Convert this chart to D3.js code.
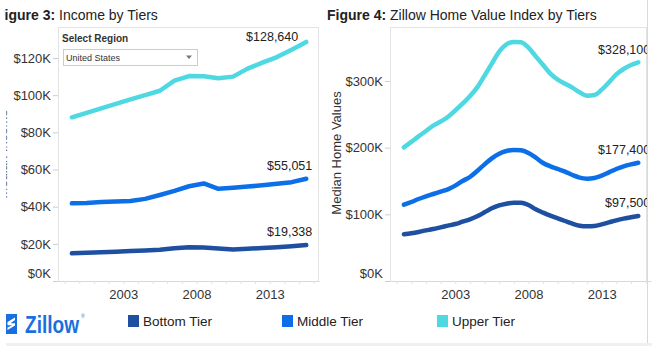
<!DOCTYPE html>
<html>
<head>
<meta charset="utf-8">
<script src="https://cdn.jsdelivr.net/npm/d3@7"></script>
<style>
  body { margin: 0; background: #fff; }
  svg { display: block; font-family: "Liberation Sans", Arial, Helvetica, sans-serif; }
</style>
</head>
<body>
<svg id="chart" width="652" height="346"></svg>
<script>
// ---- Data ----
const tiers = ["Bottom Tier", "Middle Tier", "Upper Tier"];
const tierColors = ["#1e4fa0", "#0d6fe8", "#4ed8e2"];

// Annual income by tier (US), plotted at mid-year
const incomeYears = [1999, 2000, 2001, 2002, 2003, 2004, 2005, 2006, 2007, 2008, 2009, 2010, 2011, 2012, 2013, 2014, 2015];
const incomeBottom = [14900, 15200, 15500, 15800, 16100, 16400, 16800, 17600, 18200, 18000, 17500, 16900, 17300, 17800, 18200, 18700, 19338];
const incomeMiddle = [41800, 42000, 42500, 42800, 43100, 44200, 46300, 48500, 51000, 52500, 49600, 50200, 50800, 51500, 52300, 53200, 55051];
const incomeUpper  = [88100, 90500, 92900, 95300, 97700, 100000, 102400, 107800, 110300, 110200, 109100, 110000, 114300, 117500, 120500, 124500, 128640];

// Zillow Home Value Index by tier, semi-annual (Jul 1999 – Jul 2015)
const zhviPeriods = d3.timeMonth.every(6).range(new Date(1999, 6, 1), new Date(2015, 7, 1));
const zhviBottom = [70000, 71500, 73500, 76000, 78000, 80500, 83000, 85500, 89000, 92500, 97000, 103000, 109000, 113500, 116000, 117500, 117500,
                    114000, 107500, 102500, 98000, 94000, 90000, 86000, 83000, 82000, 82500, 85000, 88000, 91000, 93500, 95500, 97500];
const zhviMiddle = [114500, 118500, 123000, 127000, 130500, 134000, 137500, 143000, 150000, 156000, 165000, 175000, 184000, 191000, 195000, 196500, 196000,
                    192000, 185000, 177000, 172000, 168000, 164000, 159000, 155000, 153500, 154500, 158000, 163000, 168000, 172000, 175000, 177400];
const zhviUpper  = [200500, 208700, 217000, 225000, 233000, 239200, 246000, 255800, 266000, 277000, 290400, 308000, 326000, 344000, 355000, 358500, 358000,
                    350000, 337000, 324000, 311000, 302000, 296000, 290000, 283000, 278000, 279000, 287000, 298000, 310000, 318000, 324000, 328100];

const incomeTicks = [0, 20000, 40000, 60000, 80000, 100000, 120000];
const zhviTicks = [0, 100000, 200000, 300000];
const yearLabels = [2003, 2008, 2013];

// ---- Layout ----
const svg = d3.select("#chart");
const defs = svg.append("defs");
const plotTop = 27, plotH = 254, plotW = 261;
const fmtK = v => "$" + (v / 1000) + "K";
const fmtVal = d3.format("$,");

const x = d3.scaleTime()
  .domain([new Date(1998, 6, 19), new Date(2016, 4, 14)])
  .range([0, plotW]);

function drawPanel(o) {
  const g = svg.append("g").attr("transform", `translate(${o.left},${plotTop})`);
  const y = d3.scaleLinear().domain([0, o.yMax]).range([plotH, 0]);

  defs.append("clipPath").attr("id", o.id + "-clip")
    .append("rect").attr("x", 0).attr("y", 0).attr("width", o.boxW).attr("height", plotH + 1);

  // frame
  g.append("rect")
    .attr("x", 0.5).attr("y", 0.5)
    .attr("width", o.boxW - 1).attr("height", plotH)
    .attr("fill", "none").attr("stroke", "#e3e3e3");

  // y axis
  const ya = g.append("g").call(
    d3.axisLeft(y).tickValues(o.yTicks).tickFormat(fmtK).tickSize(5).tickPadding(2)
  );
  ya.select(".domain").remove();
  ya.selectAll(".tick line").attr("stroke", "#cdcdcd");
  ya.selectAll(".tick text")
    .attr("fill", "#333").style("font-size", "13px")
    .filter(d => d === 0).attr("y", -8);

  // x axis: yearly minor ticks
  const xm = g.append("g").attr("transform", `translate(0,${plotH})`).call(
    d3.axisBottom(x).ticks(d3.timeYear.every(1)).tickFormat("").tickSize(3).tickSizeOuter(0)
  );
  xm.select(".domain").attr("stroke", "#d8d8d8");
  xm.selectAll(".tick line").attr("stroke", "#e2e2e2");
  xm.selectAll(".tick").filter(d => x(d) > o.boxW).remove();

  // x axis: year labels
  const xl = g.append("g").attr("transform", `translate(0,${plotH})`).call(
    d3.axisBottom(x).tickValues(yearLabels.map(yr => new Date(yr, 0, 1)))
      .tickFormat(d3.timeFormat("%Y")).tickSize(0).tickPadding(9)
  );
  xl.select(".domain").remove();
  xl.selectAll(".tick text").attr("fill", "#333").style("font-size", "13px");

  // series
  const plot = g.append("g").attr("clip-path", `url(#${o.id}-clip)`);
  const line = d3.line()
    .x((d, i) => x(o.dates[i]))
    .y(d => y(d))
    .curve(o.curve);

  o.series.forEach((vals, i) => {
    plot.append("path")
      .datum(vals)
      .attr("d", line)
      .attr("fill", "none")
      .attr("stroke", tierColors[i])
      .attr("stroke-width", 4.5)
      .attr("stroke-linecap", "round")
      .attr("stroke-linejoin", "round");
  });

  // end-of-line value labels
  o.series.forEach(vals => {
    const last = vals[vals.length - 1];
    const lx = x(o.dates[o.dates.length - 1]);
    let cy = y(last) - 13;
    let dx = o.labelDx;
    if (cy < 10) { cy = 10; dx = -8; }
    plot.append("text")
      .attr("x", lx + dx).attr("y", cy).attr("dy", "0.35em")
      .attr("text-anchor", "end")
      .attr("fill", "#222")
      .style("font-size", "12.5px")
      .text(fmtVal(last));
  });

  return g;
}

// Figure 3: income
drawPanel({
  id: "income", left: 58, boxW: 261, yMax: 136700, yTicks: incomeTicks,
  dates: incomeYears.map(yr => new Date(yr, 6, 1)),
  series: [incomeBottom, incomeMiddle, incomeUpper],
  curve: d3.curveLinear, labelDx: 6
});

// Figure 4: home values
drawPanel({
  id: "zhvi", left: 390, boxW: 257, yMax: 381000, yTicks: zhviTicks,
  dates: zhviPeriods,
  series: [zhviBottom, zhviMiddle, zhviUpper],
  curve: d3.curveMonotoneX, labelDx: 12
});

// pane divider on the right
svg.append("line")
  .attr("x1", 647.5).attr("x2", 647.5).attr("y1", 0).attr("y2", 346)
  .attr("stroke", "#d9d9d9");

// titles (the left pane crops its title's first letter)
defs.append("clipPath").attr("id", "left-pane-clip")
  .append("rect").attr("x", 4.5).attr("y", 0).attr("width", 320).attr("height", 346);

function title(parent, xPos, num, rest) {
  const t = parent.append("text").attr("x", xPos).attr("y", 20)
    .attr("fill", "#222").style("font-size", "14px");
  t.append("tspan").style("font-weight", "bold").text(num);
  t.append("tspan").text(" " + rest);
}
const leftPane = svg.append("g").attr("clip-path", "url(#left-pane-clip)");
title(leftPane, -4, "Figure 3:", "Income by Tiers");
title(svg, 327, "Figure 4:", "Zillow Home Value Index by Tiers");

// axis titles
defs.append("clipPath").attr("id", "ytitle-clip")
  .append("rect").attr("x", 6).attr("y", 0).attr("width", 20).attr("height", 346);
svg.append("g").attr("clip-path", "url(#ytitle-clip)")
  .append("text")
  .attr("transform", "translate(7,154) rotate(-90)")
  .attr("text-anchor", "middle").attr("fill", "#666").style("font-size", "13px")
  .text("Median Income");
svg.append("text")
  .attr("transform", "translate(341,153) rotate(-90)")
  .attr("text-anchor", "middle").attr("fill", "#333").style("font-size", "13px")
  .text("Median Home Values");

// region selector
svg.append("text").attr("x", 62).attr("y", 42)
  .attr("fill", "#333").style("font-size", "10px").style("font-weight", "bold")
  .text("Select Region");
svg.append("rect").attr("x", 63.5).attr("y", 49.5).attr("width", 134).attr("height", 16)
  .attr("fill", "#fff").attr("stroke", "#cccccc");
svg.append("text").attr("x", 66).attr("y", 61)
  .attr("fill", "#333").style("font-size", "9px")
  .text("United States");
svg.append("path").attr("d", "M186,55.5 L192,55.5 L189,59 Z").attr("fill", "#777");

// Zillow mark
svg.append("rect").attr("x", 6).attr("y", 314).attr("width", 11).attr("height", 20).attr("fill", "#1a6fe0");
svg.append("path")
  .attr("d", "M7.5,322 L15,317.5 L15,320 L10.5,323.2 L15,323.2 L15,325.4 L7.5,330 L7.5,327.6 L12.3,325.2 L7.5,325.2 Z")
  .attr("fill", "#fff");
svg.append("text").attr("x", 25).attr("y", 333)
  .attr("fill", "#1a6fe0").style("font-size", "24px").style("font-weight", "bold")
  .attr("textLength", 54).attr("lengthAdjust", "spacingAndGlyphs")
  .text("Zillow");
svg.append("text").attr("x", 81).attr("y", 318)
  .attr("fill", "#1a6fe0").style("font-size", "5px").text("®");

// legend
const legendX = [128, 282, 437];
const legend = svg.append("g");
tiers.forEach((name, i) => {
  legend.append("rect").attr("x", legendX[i]).attr("y", 315).attr("width", 11).attr("height", 12)
    .attr("fill", tierColors[i]);
  legend.append("text").attr("x", legendX[i] + 15).attr("y", 326)
    .attr("fill", "#222").style("font-size", "13.5px").text(name);
});

// footer strip
svg.append("rect").attr("x", 6).attr("y", 343).attr("width", 646).attr("height", 3).attr("fill", "#f0f0f0");
</script>
</body>
</html>
